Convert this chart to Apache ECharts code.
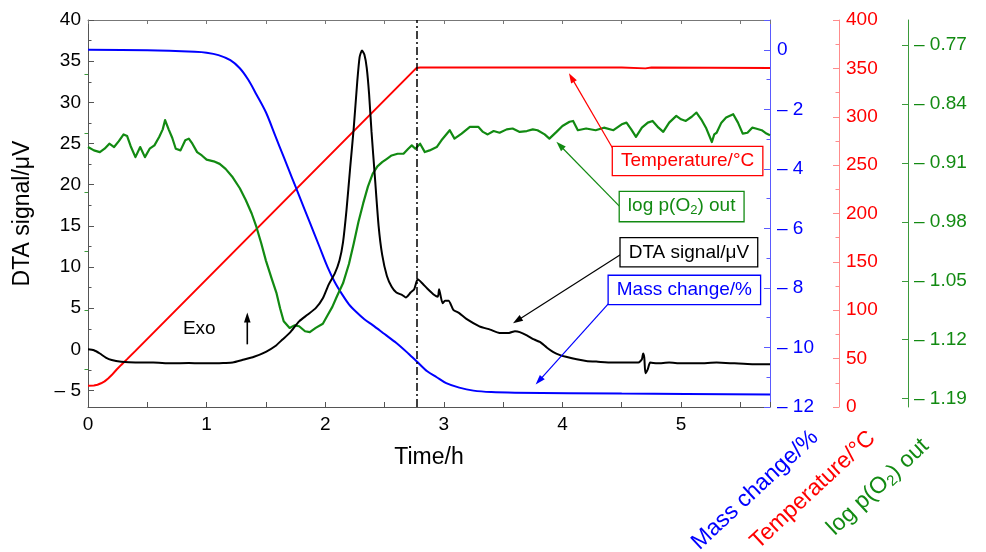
<!DOCTYPE html>
<html>
<head>
<meta charset="utf-8">
<script src="https://cdn.jsdelivr.net/npm/echarts@6/dist/echarts.min.js"></script>
<style>
  html, body { margin: 0; padding: 0; background: #fff; }
  #chart { width: 986px; height: 552px; }
</style>
</head>
<body>
<div id="chart"></div>
<script>
// ---- Measured data: time in hours ----
const dtaTime = [0.00, 0.05, 0.10, 0.15, 0.20, 0.28, 0.40, 0.55, 0.70, 0.85, 0.95, 1.05, 1.15, 1.22, 1.30, 1.40, 1.50, 1.58, 1.64, 1.70, 1.78, 1.85, 1.92, 1.98, 2.03, 2.08, 2.12, 2.15, 2.18, 2.21, 2.24, 2.27, 2.29, 2.31, 2.33, 2.35, 2.37, 2.39, 2.42, 2.45, 2.48, 2.52, 2.56, 2.60, 2.65, 2.68, 2.72, 2.75, 2.78, 2.82, 2.86, 2.92, 2.95, 2.96, 2.97, 2.99, 3.01, 3.04, 3.08, 3.13, 3.19, 3.30, 3.39, 3.47, 3.55, 3.60, 3.64, 3.70, 3.76, 3.81, 3.87, 3.92, 3.98, 4.03, 4.12, 4.20, 4.30, 4.42, 4.55, 4.64, 4.67, 4.68, 4.69, 4.70, 4.72, 4.74, 4.80, 4.90, 5.00, 5.15, 5.30, 5.45, 5.60, 5.75];
const dtaSignal = [0.0, -0.1, -0.5, -1.0, -1.3, -1.5, -1.6, -1.6, -1.7, -1.65, -1.7, -1.7, -1.65, -1.6, -1.3, -0.9, -0.3, 0.4, 1.2, 2.0, 3.4, 4.2, 5.0, 6.2, 7.9, 9.2, 10.8, 13.0, 17.0, 22.0, 26.8, 32.5, 35.5, 36.3, 35.8, 34.2, 31.0, 26.5, 20.7, 15.0, 11.5, 8.9, 7.6, 6.9, 6.6, 6.3, 6.9, 7.3, 8.5, 8.0, 7.4, 6.6, 6.4, 7.3, 6.7, 5.6, 5.9, 5.9, 4.8, 4.4, 3.7, 2.8, 2.4, 2.0, 2.0, 2.2, 2.1, 1.7, 1.2, 0.9, 0.2, -0.3, -0.7, -0.9, -1.2, -1.4, -1.5, -1.6, -1.6, -1.6, -1.2, -0.5, -1.0, -2.9, -2.4, -1.6, -1.7, -1.6, -1.7, -1.7, -1.6, -1.7, -1.8, -1.8];

const massTime = [0.0, 0.5, 0.9, 1.0, 1.1, 1.2, 1.28, 1.35, 1.42, 1.5, 1.58, 1.65, 1.72, 1.78, 1.87, 1.95, 2.02, 2.08, 2.14, 2.2, 2.26, 2.33, 2.4, 2.5, 2.6, 2.7, 2.78, 2.86, 2.94, 3.02, 3.13, 3.25, 3.4, 3.6, 4.5, 5.75];
const massChange = [0.0, -0.02, -0.07, -0.1, -0.18, -0.35, -0.62, -1.0, -1.5, -2.1, -2.9, -3.6, -4.3, -4.9, -5.8, -6.6, -7.3, -7.8, -8.2, -8.55, -8.8, -9.05, -9.25, -9.55, -9.85, -10.2, -10.5, -10.8, -11.0, -11.2, -11.35, -11.45, -11.5, -11.52, -11.55, -11.58];

const tempTime = [0.0, 0.05, 0.08, 0.11, 0.14, 0.17, 0.20, 0.24, 0.28, 0.33, 0.40, 2.77, 2.80, 4.50, 4.70, 4.75, 5.75];
const temperature = [22, 22.3, 23, 24.5, 26.5, 29.5, 33, 38.5, 43.5, 49.5, 58, 350.5, 351, 351, 350, 351, 350.5];

const o2Time = [0.00, 0.05, 0.10, 0.14, 0.18, 0.22, 0.26, 0.30, 0.33, 0.36, 0.40, 0.44, 0.48, 0.52, 0.56, 0.60, 0.63, 0.65, 0.68, 0.71, 0.74, 0.78, 0.82, 0.85, 0.88, 0.92, 0.96, 1.00, 1.06, 1.11, 1.16, 1.22, 1.28, 1.33, 1.38, 1.42, 1.46, 1.50, 1.55, 1.59, 1.62, 1.65, 1.70, 1.74, 1.78, 1.83, 1.87, 1.92, 1.98, 2.02, 2.06, 2.10, 2.15, 2.20, 2.24, 2.28, 2.32, 2.36, 2.40, 2.44, 2.48, 2.52, 2.56, 2.61, 2.66, 2.70, 2.73, 2.76, 2.80, 2.84, 2.88, 2.94, 2.98, 3.05, 3.09, 3.15, 3.22, 3.29, 3.33, 3.37, 3.42, 3.47, 3.53, 3.58, 3.64, 3.70, 3.75, 3.79, 3.85, 3.89, 3.95, 4.00, 4.06, 4.09, 4.13, 4.20, 4.28, 4.35, 4.43, 4.50, 4.54, 4.58, 4.62, 4.67, 4.72, 4.76, 4.81, 4.85, 4.90, 4.96, 5.00, 5.04, 5.09, 5.13, 5.17, 5.21, 5.26, 5.28, 5.30, 5.34, 5.38, 5.44, 5.48, 5.52, 5.56, 5.60, 5.63, 5.68, 5.72, 5.75];
const logPO2 = [-0.891, -0.895, -0.897, -0.893, -0.887, -0.891, -0.884, -0.876, -0.878, -0.890, -0.903, -0.891, -0.903, -0.893, -0.889, -0.879, -0.870, -0.859, -0.870, -0.880, -0.893, -0.895, -0.883, -0.881, -0.887, -0.897, -0.901, -0.906, -0.908, -0.911, -0.917, -0.927, -0.940, -0.954, -0.970, -0.986, -1.005, -1.026, -1.048, -1.065, -1.083, -1.098, -1.106, -1.103, -1.104, -1.110, -1.111, -1.106, -1.101, -1.091, -1.081, -1.068, -1.053, -1.030, -1.006, -0.980, -0.958, -0.938, -0.923, -0.914, -0.909, -0.905, -0.901, -0.899, -0.899, -0.893, -0.889, -0.893, -0.887, -0.897, -0.895, -0.891, -0.883, -0.871, -0.881, -0.875, -0.867, -0.867, -0.873, -0.876, -0.872, -0.874, -0.870, -0.869, -0.873, -0.872, -0.870, -0.871, -0.876, -0.881, -0.873, -0.866, -0.861, -0.860, -0.871, -0.869, -0.871, -0.868, -0.871, -0.864, -0.862, -0.870, -0.879, -0.868, -0.862, -0.860, -0.868, -0.873, -0.862, -0.854, -0.858, -0.860, -0.855, -0.850, -0.858, -0.868, -0.885, -0.876, -0.874, -0.862, -0.856, -0.852, -0.862, -0.875, -0.874, -0.868, -0.869, -0.871, -0.875, -0.877];

// End of the heating ramp (h)
const rampEnd = [2.77];

// Tick labels
const dtaTicks = [-5, 0, 5, 10, 15, 20, 25, 30, 35, 40];
const o2Ticks = [-1.19, -1.12, -1.05, -0.98, -0.91, -0.84, -0.77];

// ---- Styling ----
const FONT = '"Liberation Sans", Arial, Helvetica, sans-serif';
const C_BLUE = '#0000ff', C_RED = '#ff0000', C_GREEN = '#128a12', C_AXIS = '#555';
const minusFmt = v => (v < 0 ? '\u2013 ' + Math.abs(v) : String(v));

const zip = (xs, ys) => xs.map((x, i) => [x, ys[i]]);
const midTicks = (ticks, lo, hi) => {
  const step = ticks[1] - ticks[0];
  return [ticks[0] - step / 2].concat(ticks.map(v => v + step / 2))
    .map(v => Math.round(v * 10000) / 10000)
    .filter(v => v > lo && v < hi);
};

const chart = echarts.init(document.getElementById('chart'), null, { renderer: 'canvas' });

const X_MIN = 0, X_MAX = 5.75;
const DTA_MIN = -7, DTA_MAX = 40;
const O2_MIN = -1.2, O2_MAX = -0.74;

const xCommon = {
  type: 'value', min: X_MIN, max: X_MAX, interval: 0.5,
  splitLine: { show: false },
  axisLine: { show: true, onZero: false, lineStyle: { color: C_AXIS, width: 1 } },
  axisTick: { show: true, inside: true, length: 5, lineStyle: { color: C_AXIS } }
};

const option = {
  animation: false,
  backgroundColor: '#fff',
  textStyle: { fontFamily: FONT },
  grid: { left: 88, right: 216, top: 20, bottom: 145, containLabel: false, outerBoundsMode: 'none' },
  xAxis: [
    Object.assign({}, xCommon, {
      position: 'bottom',
      axisLabel: {
        color: '#000', fontSize: 19, margin: 8, fontFamily: FONT,
        formatter: v => (Math.abs(v - Math.round(v)) < 1e-9 ? String(Math.round(v)) : '')
      },
      name: 'Time/h', nameLocation: 'middle', nameGap: 39,
      nameTextStyle: { color: '#000', fontSize: 23, fontFamily: FONT }
    }),
    Object.assign({}, xCommon, {
      position: 'top',
      axisLine: { show: true, onZero: false, lineStyle: { color: '#777', width: 1 } },
      axisTick: { show: true, inside: true, length: 4, lineStyle: { color: '#777' } },
      axisLabel: { show: false }
    })
  ],
  yAxis: [
    {
      type: 'value', position: 'left', min: DTA_MIN, max: DTA_MAX,
      splitLine: { show: false },
      axisLine: { show: true, onZero: false, lineStyle: { color: C_AXIS } },
      axisTick: { show: true, inside: true, length: 6, customValues: dtaTicks, lineStyle: { color: C_AXIS } },
      axisLabel: { color: '#000', fontSize: 19, margin: 7, customValues: dtaTicks, formatter: minusFmt, fontFamily: FONT },
      name: 'DTA signal/\u03bcV', nameLocation: 'middle', nameGap: 54,
      nameTextStyle: { color: '#000', fontSize: 23, fontFamily: FONT }
    },
    {
      type: 'value', position: 'left', min: DTA_MIN, max: DTA_MAX,
      splitLine: { show: false },
      axisLine: { show: false },
      axisTick: { show: true, inside: true, length: 3.5, customValues: midTicks(dtaTicks, DTA_MIN, DTA_MAX), lineStyle: { color: C_AXIS } },
      axisLabel: { show: false }
    },
    {
      type: 'value', position: 'right', offset: 0, min: -12, max: 1, interval: 2,
      splitLine: { show: false },
      axisLine: { show: true, onZero: false, lineStyle: { color: '#5a5aff' } },
      axisTick: { show: true, inside: true, length: 6, lineStyle: { color: '#5a5aff' } },
      minorTick: { show: true, splitNumber: 2, length: 3.5, lineStyle: { color: '#5a5aff' } },
      axisLabel: { color: C_BLUE, fontSize: 19, margin: 7, fontFamily: FONT, formatter: v => (v > 0 ? '' : minusFmt(v)) }
    },
    {
      type: 'value', position: 'right', offset: 69, min: 0, max: 400, interval: 50,
      splitLine: { show: false },
      axisLine: { show: true, onZero: false, lineStyle: { color: '#ff8c8c' } },
      axisTick: { show: true, inside: true, length: 6, lineStyle: { color: '#ff8c8c' } },
      minorTick: { show: true, splitNumber: 2, length: 3.5, lineStyle: { color: '#ff8c8c' } },
      axisLabel: { color: C_RED, fontSize: 19, margin: 7, fontFamily: FONT }
    },
    {
      type: 'value', position: 'right', offset: 138, min: O2_MIN, max: O2_MAX,
      splitLine: { show: false },
      axisLine: { show: true, onZero: false, lineStyle: { color: '#3a9a3a' } },
      axisTick: { show: true, inside: true, length: 6, customValues: o2Ticks, lineStyle: { color: '#3a9a3a' } },
      axisLabel: { color: C_GREEN, fontSize: 19, margin: 6, customValues: o2Ticks, fontFamily: FONT,
        formatter: v => '\u2013 ' + Math.abs(v).toFixed(2) }
    },
    {
      type: 'value', position: 'right', offset: 138, min: O2_MIN, max: O2_MAX,
      splitLine: { show: false },
      axisLine: { show: false },
      axisTick: { show: true, inside: true, length: 3.5, customValues: midTicks(o2Ticks, O2_MIN, O2_MAX), lineStyle: { color: '#3a9a3a' } },
      axisLabel: { show: false }
    }
  ],
  series: [
    {
      name: 'Temperature', type: 'line', xAxisIndex: 0, yAxisIndex: 3,
      data: zip(tempTime, temperature), showSymbol: false, smooth: false,
      lineStyle: { color: C_RED, width: 2 }, z: 2
    },
    {
      name: 'Mass change', type: 'line', xAxisIndex: 0, yAxisIndex: 2,
      data: zip(massTime, massChange), showSymbol: false, smooth: 0.3,
      lineStyle: { color: C_BLUE, width: 2 }, z: 3
    },
    {
      name: 'log p(O2) out', type: 'line', xAxisIndex: 0, yAxisIndex: 4,
      data: zip(o2Time, logPO2), showSymbol: false, smooth: false,
      lineStyle: { color: C_GREEN, width: 2.2, join: 'round' }, z: 4
    },
    {
      name: 'DTA signal', type: 'line', xAxisIndex: 0, yAxisIndex: 0,
      data: zip(dtaTime, dtaSignal), showSymbol: false, smooth: 0.2,
      lineStyle: { color: '#000', width: 2 }, z: 5,
      markLine: {
        silent: true, symbol: ['none', 'none'], label: { show: false },
        lineStyle: { color: '#000', width: 1.5, type: [8, 3, 2, 3] },
        data: rampEnd.map(t => ({ xAxis: t }))
      }
    }
  ]
};

chart.setOption(option);

// ---- Annotations, placed in the (time, DTA) frame ----
const annotations = [
  { label: 'Temperature/\u00b0C', color: C_RED, box: [5.055, 22.87], tail: [4.421, 24.48], tip: [4.055, 33.54] },
  { label: '{n|log p(O}{s|2}{n|) out}', rich: true, color: C_GREEN, box: [5.005, 17.34], tail: [4.488, 17.28], tip: [3.949, 25.21] },
  { label: 'DTA signal/\u03bcV', color: '#000', box: [5.066, 11.79], tail: [4.488, 11.5], tip: [3.583, 3.17] },
  { label: 'Mass change/%', color: C_BLUE, box: [5.028, 7.22], tail: [4.392, 5.61], tip: [3.774, -4.27] }
];
const exoNote = { label: 'Exo', at: [0.938, 2.56], arrowFrom: [1.343, 0.61], arrowTo: [1.343, 4.48] };

const toPx = p => chart.convertToPixel({ xAxisIndex: 0, yAxisIndex: 0 }, p);

function arrowShapes(p0, p1, color, width) {
  const dx = p1[0] - p0[0], dy = p1[1] - p0[1];
  const len = Math.hypot(dx, dy);
  const ux = dx / len, uy = dy / len;
  const hl = 10, hw = 3.3;
  const bx = p1[0] - ux * hl, by = p1[1] - uy * hl;
  return [
    { type: 'line', silent: true, z: 50, shape: { x1: p0[0], y1: p0[1], x2: bx + ux * 2, y2: by + uy * 2 },
      style: { stroke: color, lineWidth: width } },
    { type: 'polygon', silent: true, z: 50,
      shape: { points: [[p1[0], p1[1]], [bx - uy * hw, by + ux * hw], [bx + uy * hw, by - ux * hw]] },
      style: { fill: color } }
  ];
}

function richStyle(color) {
  return {
    n: { fontSize: 19, fontFamily: FONT, fill: color, lineHeight: 22 },
    s: { fontSize: 13, fontFamily: FONT, fill: color, lineHeight: 22, verticalAlign: 'bottom', padding: [9, 0, 0, 0] }
  };
}

function buildGraphic() {
  const els = [];
  annotations.forEach(a => {
    const c = toPx(a.box);
    els.push(...arrowShapes(toPx(a.tail), toPx(a.tip), a.color, 1.2));
    const style = {
      text: a.label, fill: a.color, font: '19px ' + FONT,
      align: 'center', verticalAlign: 'middle', textAlign: 'center', textVerticalAlign: 'middle',
      backgroundColor: '#fff', borderColor: a.color, borderWidth: 1.3,
      padding: a.rich ? [3, 8, 4, 8] : [5, 8, 4, 8]
    };
    if (a.rich) style.rich = richStyle(a.color);
    els.push({ type: 'text', x: c[0], y: c[1], z: 60, silent: true, style });
  });
  const e = toPx(exoNote.at);
  els.push({ type: 'text', x: e[0], y: e[1], z: 60, silent: true,
    style: { text: exoNote.label, fill: '#000', font: '19px ' + FONT, align: 'center', verticalAlign: 'middle',
      textAlign: 'center', textVerticalAlign: 'middle' } });
  els.push(...arrowShapes(toPx(exoNote.arrowFrom), toPx(exoNote.arrowTo), '#000', 1.6));

  // Rotated titles for the three right-hand axes
  const titles = [
    { text: 'Mass change/%', color: C_BLUE, x: 755, y: 490 },
    { text: 'Temperature/\u00b0C', color: C_RED, x: 813, y: 490 },
    { text: '{n|log p(O}{s|2}{n|) out}', color: C_GREEN, x: 878, y: 487, rich: true }
  ];
  titles.forEach(t => {
    const style = {
      text: t.text, fill: t.color, font: '23px ' + FONT,
      align: 'center', verticalAlign: 'middle', textAlign: 'center', textVerticalAlign: 'middle'
    };
    if (t.rich) {
      style.rich = {
        n: { fontSize: 23, fontFamily: FONT, fill: t.color, lineHeight: 26 },
        s: { fontSize: 15, fontFamily: FONT, fill: t.color, lineHeight: 26, verticalAlign: 'bottom', padding: [10, 0, 0, 0] }
      };
    }
    els.push({ type: 'text', x: t.x, y: t.y, rotation: 43 * Math.PI / 180, z: 60, silent: true, style });
  });
  return els;
}

chart.setOption({ graphic: { elements: buildGraphic() } });
</script>
</body>
</html>
